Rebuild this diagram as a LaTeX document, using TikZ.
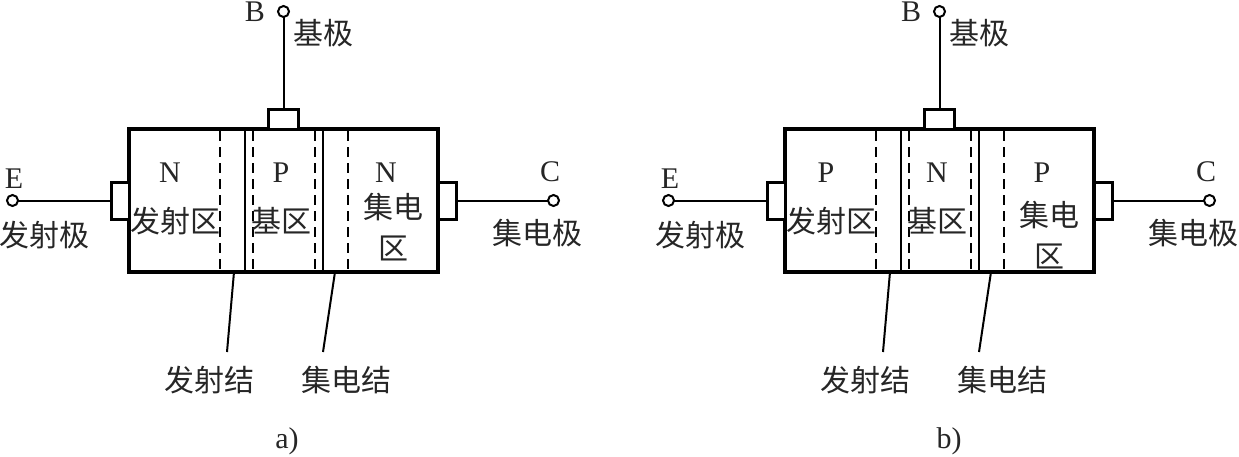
\documentclass[tikz,border=0pt]{standalone}
\usepackage{fontspec}
\setmainfont{Liberation Serif}
\newfontfamily\cjk{Noto Sans CJK SC}
\usetikzlibrary{positioning}

\begin{document}
\begin{tikzpicture}[x=1pt,y=-1pt,
        wafer/.style={rectangle, draw, line width=3.2pt, minimum width=309pt, minimum height=143pt, outer sep=0pt},
        pad/.style={rectangle, draw, fill=white, line width=3pt, inner sep=0pt, outer sep=0pt},
        terminal/.style={circle, draw, fill=white, line width=2pt, inner sep=0pt, minimum size=11pt, outer sep=0pt},
        wire/.style={line width=2pt},
        junction/.style={line width=2.2pt},
        depletion/.style={line width=2pt, dash pattern=on 10pt off 6pt},
        cntext/.style={font=\cjk\fontsize{30}{41}\selectfont, inner sep=0pt, align=center, text=black!85},
        letter/.style={font=\fontsize{30}{32}\selectfont, inner sep=0pt, text=black!85}]

    \useasboundingbox (0,0) rectangle (1239,456);

    \foreach \px/\ra/\rb/\rc/\cy/\sx/\sub in {0/N/P/N/227/287/a),656/P/N/P/235/293/b)} {
    \begin{scope}[xshift=\px pt]
        \node[wafer] (box) at (283.5,200.5) {};
        \node[pad, left=0pt of box, minimum width=18pt, minimum height=37pt] (epad) {};
        \node[pad, right=0pt of box, minimum width=18pt, minimum height=37pt] (cpad) {};
        \node[pad, above=0pt of box, minimum width=30pt, minimum height=20pt] (bpad) {};

        \node[terminal, left=93pt of epad] (eterm) {};
        \node[terminal, right=92pt of cpad] (cterm) {};
        \node[terminal, above=92pt of bpad] (bterm) {};
        \draw[wire] (eterm) -- (epad);
        \draw[wire] (cterm) -- (cpad);
        \draw[wire] (bterm) -- (bpad);

        % junction lines inside the wafer
        \foreach \jx in {245,323}
            \draw[junction] (\jx,129) -- (\jx,272);
        \foreach \dx in {220,253,315,348}
            \draw[depletion] (\dx,131) -- (\dx,272);

        \node[letter] (elabel) at (14,179) {E};
        \node[letter] (blabel) at (255,12) {B};
        \node[letter] (clabel) at (550,172) {C};
        \node[cntext] (ename) at (44,235) {发射极};
        \node[cntext] (bname) at (323,33) {基极};
        \node[cntext] (cname) at (537,233) {集电极};

        \node[letter] (eregion) at (170,173) {\ra};
        \node[letter] (bregion) at (281,173) {\rb};
        \node[letter] (cregion) at (386,173) {\rc};
        \node[cntext] (ezone) at (175,221) {发射区};
        \node[cntext] (bzone) at (281,221) {基区};
        \node[cntext] (czone) at (393,\cy) {集电\\区};

        \node[cntext] (ejlabel) at (209,380) {发射结};
        \node[cntext] (cjlabel) at (346,380) {集电结};
        \coordinate (ejtop) at (234,272);
        \coordinate (ejend) at (227,352);
        \coordinate (cjtop) at (335,272);
        \coordinate (cjend) at (323,352);
        \draw[wire] (ejtop) -- (ejend);
        \draw[wire] (cjtop) -- (cjend);

        \node[letter] (caption) at (\sx,441) {\sub};
    \end{scope}
    }
\end{tikzpicture}
\end{document}
